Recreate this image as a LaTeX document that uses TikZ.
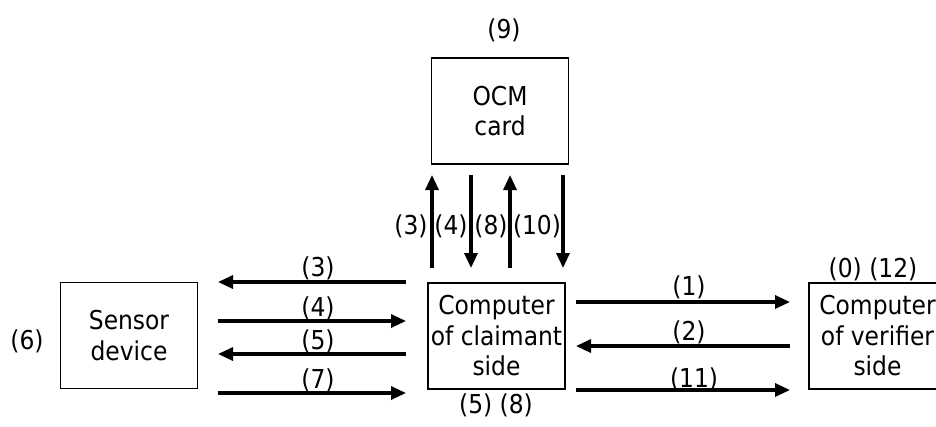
\documentclass[tikz,border=0pt]{standalone}
\usepackage{fontspec}
\setmainfont{DejaVu Sans Condensed}
\usetikzlibrary{arrows.meta}
\begin{document}
\begin{tikzpicture}[x=1pt,y=-1pt,
  every node/.style={font=\fontsize{26}{30.5}\selectfont},
  box/.style={draw,line width=1.5pt,minimum width=137pt,minimum height=106pt,align=center,inner sep=0pt},
  lbl/.style={inner sep=0pt},
  arr/.style={line width=3.2pt,-{Triangle[length=15pt,width=13pt]}}]
\useasboundingbox (0,0) rectangle (936,426);
\clip (0,0) rectangle (936,426);
% boxes
\node[box] (sensor) at (129,335.5) {Sensor\\device};
\node[box] (claim) at (496.5,336) {Computer\\of claimant\\side};
\node[box] (ocm) at (500,111) {OCM\\card};
\node[box] (verif) at (877.5,336) {Computer\\of verifier\\side};
% arrow end points
\coordinate (l3a) at (406,282); \coordinate (l3b) at (218,282);
\coordinate (l4a) at (218,321); \coordinate (l4b) at (406,321);
\coordinate (l5a) at (406,354); \coordinate (l5b) at (218,354);
\coordinate (l7a) at (218,393); \coordinate (l7b) at (406,393);
\coordinate (r1a) at (576,302); \coordinate (r1b) at (790,302);
\coordinate (r2a) at (790,346); \coordinate (r2b) at (576,346);
\coordinate (r11a) at (576,390); \coordinate (r11b) at (790,390);
\coordinate (v3a) at (432,268); \coordinate (v3b) at (432,175);
\coordinate (v4a) at (471,175); \coordinate (v4b) at (471,268);
\coordinate (v8a) at (510,268); \coordinate (v8b) at (510,175);
\coordinate (v10a) at (563,175); \coordinate (v10b) at (563,268);
% arrows
\draw[arr] (l3a) -- (l3b);
\draw[arr] (l4a) -- (l4b);
\draw[arr] (l5a) -- (l5b);
\draw[arr] (l7a) -- (l7b);
\draw[arr] (r1a) -- (r1b);
\draw[arr] (r2a) -- (r2b);
\draw[arr] (r11a) -- (r11b);
\draw[arr] (v3a) -- (v3b);
\draw[arr] (v4a) -- (v4b);
\draw[arr] (v8a) -- (v8b);
\draw[arr] (v10a) -- (v10b);
% labels
\node[lbl] (t3) at (318,268.5) {(3)};
\node[lbl] (t4) at (318,308) {(4)};
\node[lbl] (t5) at (318,341) {(5)};
\node[lbl] (t7) at (318,380) {(7)};
\node[lbl] (t1) at (689,287) {(1)};
\node[lbl] (t2) at (689,332) {(2)};
\node[lbl] (t11) at (694,379) {(11)};
\node[lbl] (u3) at (411,226) {(3)};
\node[lbl] (u4) at (451,226) {(4)};
\node[lbl] (u8) at (491,226) {(8)};
\node[lbl] (u10) at (537,226) {(10)};
\node[lbl] (t9) at (504,30) {(9)};
\node[lbl] (t6) at (27,341) {(6)};
\node[lbl] (t58) at (496,405) {(5) (8)};
\node[lbl] (t012) at (873,269) {(0) (12)};
\end{tikzpicture}
\end{document}
